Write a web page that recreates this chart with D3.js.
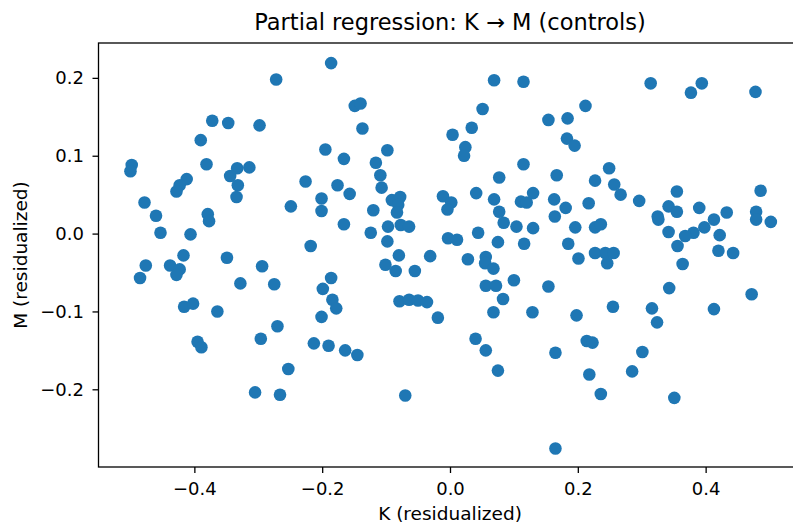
<!DOCTYPE html>
<html>
<head>
<meta charset="utf-8">
<script src="https://cdn.jsdelivr.net/npm/d3@7"></script>
<style>
  body { margin: 0; background: #fff; }
  svg { font-family: "DejaVu Sans", sans-serif; }
</style>
</head>
<body>
<div id="chart"></div>
<script>
// residualized K values (x) and M values (y)
var kResid = [
  -0.186, -0.272, -0.372, -0.347, -0.298, -0.390, -0.195, -0.498, -0.500, -0.381,
  -0.333, -0.314, -0.344, -0.332, -0.334, -0.412, -0.423, -0.428, -0.226, -0.478,
  -0.249, -0.201, -0.201, -0.460, -0.379, -0.377, -0.453, -0.406, -0.218, -0.417,
  -0.349, -0.476, -0.485, -0.438, -0.423, -0.428, -0.294, -0.328, -0.275, -0.186,
  -0.199, -0.184, -0.178, -0.201, -0.416, -0.402, -0.364, -0.270, -0.296, -0.395,
  -0.389, -0.213, -0.190, -0.164, -0.145, -0.253, -0.305, -0.266, -0.149, -0.140,
  -0.137, -0.166, -0.098, -0.116, -0.109, -0.107, -0.176, -0.157, -0.120, -0.091,
  -0.078, -0.081, -0.083, -0.166, -0.124, -0.097, -0.077, -0.064, -0.098, -0.080,
  -0.031, -0.011, 0.002, -0.004, 0.004, 0.024, 0.022, 0.034, 0.051, 0.069,
  0.115, 0.154, 0.115, 0.077, 0.041, 0.069, 0.077, 0.084, 0.104, 0.130,
  0.111, 0.120, 0.130, 0.167, 0.163, 0.164, 0.044, 0.075, 0.116, 0.028,
  0.056, 0.055, 0.068, 0.100, 0.154, 0.056, 0.072, 0.083, 0.068, 0.129,
  0.040, 0.056, 0.075, -0.070, 0.165, 0.165, -0.101, -0.085, -0.055, -0.079,
  -0.064, -0.050, -0.036, -0.019, -0.003, 0.011, 0.314, 0.377, 0.394, 0.478,
  0.212, 0.184, 0.183, 0.195, 0.249, 0.227, 0.257, 0.267, 0.296, 0.217,
  0.181, 0.196, 0.227, 0.236, 0.185, 0.201, 0.227, 0.243, 0.256, 0.246,
  0.355, 0.342, 0.355, 0.325, 0.326, 0.390, 0.433, 0.413, 0.398, 0.381,
  0.368, 0.342, 0.422, 0.486, 0.479, 0.479, 0.502, 0.356, 0.420, 0.443,
  0.364, 0.343, 0.472, 0.255, 0.316, 0.324, 0.413, 0.198, 0.214, 0.223,
  0.301, 0.285, 0.218, 0.236, 0.351
];
var mResid = [
  0.219, 0.198, 0.145, 0.142, 0.139, 0.120, 0.108, 0.088, 0.080, 0.089,
  0.084, 0.085, 0.074, 0.062, 0.047, 0.070, 0.062, 0.054, 0.067, 0.040,
  0.035, 0.045, 0.029, 0.023, 0.025, 0.016, 0.001, -0.001, -0.016, -0.028,
  -0.031, -0.041, -0.057, -0.041, -0.046, -0.053, -0.042, -0.064, -0.065, -0.057,
  -0.071, -0.085, -0.096, -0.107, -0.094, -0.090, -0.100, -0.119, -0.135, -0.139,
  -0.146, -0.141, -0.144, -0.150, -0.156, -0.174, -0.204, -0.207, 0.164, 0.167,
  0.135, 0.096, 0.107, 0.091, 0.075, 0.059, 0.062, 0.051, 0.030, 0.043,
  0.047, 0.037, 0.027, 0.012, 0.001, 0.009, 0.011, 0.009, -0.010, -0.028,
  -0.029, 0.048, 0.040, 0.031, 0.127, 0.111, 0.100, 0.136, 0.160, 0.197,
  0.195, 0.146, 0.089, 0.072, 0.052, 0.044, 0.028, 0.014, 0.009, 0.007,
  0.041, 0.040, 0.052, 0.075, 0.044, 0.022, 0.001, -0.011, -0.013, -0.033,
  -0.030, -0.038, -0.045, -0.060, -0.068, -0.067, -0.067, -0.084, -0.101, -0.101,
  -0.135, -0.150, -0.176, -0.208, -0.276, -0.153, -0.040, -0.048, -0.048, -0.087,
  -0.085, -0.086, -0.088, -0.108, -0.006, -0.008, 0.193, 0.181, 0.193, 0.182,
  0.164, 0.148, 0.122, 0.113, 0.084, 0.068, 0.063, 0.050, 0.042, 0.039,
  0.033, 0.008, 0.008, 0.012, -0.013, -0.032, -0.025, -0.025, -0.025, -0.038,
  0.054, 0.035, 0.028, 0.022, 0.018, 0.033, 0.027, 0.018, 0.008, 0.001,
  -0.003, 0.002, -0.002, 0.055, 0.028, 0.018, 0.015, -0.016, -0.022, -0.025,
  -0.039, -0.070, -0.078, -0.094, -0.096, -0.114, -0.097, -0.105, -0.138, -0.140,
  -0.152, -0.177, -0.181, -0.206, -0.211
];
var xTicks = [-0.4, -0.2, 0.0, 0.2, 0.4];
var yTicks = [-0.2, -0.1, 0.0, 0.1, 0.2];

var width = 793, height = 527;
var plotL = 98.5, plotR = 801.5, plotT = 43, plotB = 467;

var svg = d3.select('#chart').append('svg')
    .attr('width', width)
    .attr('height', height);

var x = d3.scaleLinear().domain([-0.55, 0.55]).range([plotL, plotR]);
var y = d3.scaleLinear().domain([-0.2998, 0.2448]).range([plotB, plotT]);

var fmt = function(d) { return d3.format('.1f')(d).replace('-', '\u2212'); };

var xAxis = svg.append('g')
    .attr('transform', 'translate(0,' + plotB + ')')
    .call(d3.axisBottom(x).tickValues(xTicks).tickFormat(fmt).tickSize(6).tickPadding(9));
var yAxis = svg.append('g')
    .attr('transform', 'translate(' + plotL + ',0)')
    .call(d3.axisLeft(y).tickValues(yTicks).tickFormat(fmt).tickSize(6).tickPadding(8.5));

[xAxis, yAxis].forEach(function(g) {
    g.select('.domain').remove();
    g.selectAll('line').attr('stroke', '#000').attr('stroke-width', 1.3);
    g.selectAll('text').attr('font-size', 18).attr('fill', '#000')
        .attr('font-family', '"DejaVu Sans", sans-serif');
});

var points = kResid.map(function(k, i) { return { k: k, m: mResid[i] }; });

svg.append('g').selectAll('circle').data(points).enter().append('circle')
    .attr('cx', function(d) { return x(d.k); })
    .attr('cy', function(d) { return y(d.m); })
    .attr('r', 6.3)
    .attr('fill', '#1f77b4');

// frame
svg.append('rect')
    .attr('x', plotL).attr('y', plotT)
    .attr('width', plotR - plotL).attr('height', plotB - plotT)
    .attr('fill', 'none').attr('stroke', '#000').attr('stroke-width', 1.3);

svg.append('text')
    .attr('x', (plotL + plotR) / 2).attr('y', 30)
    .attr('text-anchor', 'middle').attr('font-size', 22.5)
    .text('Partial regression: K \u2192 M (controls)');

svg.append('text')
    .attr('x', (plotL + plotR) / 2).attr('y', 520)
    .attr('text-anchor', 'middle').attr('font-size', 18.5)
    .text('K (residualized)');

svg.append('text')
    .attr('transform', 'translate(27,' + ((plotT + plotB) / 2) + ') rotate(-90)')
    .attr('text-anchor', 'middle').attr('font-size', 18.5)
    .text('M (residualized)');
</script>
</body>
</html>
